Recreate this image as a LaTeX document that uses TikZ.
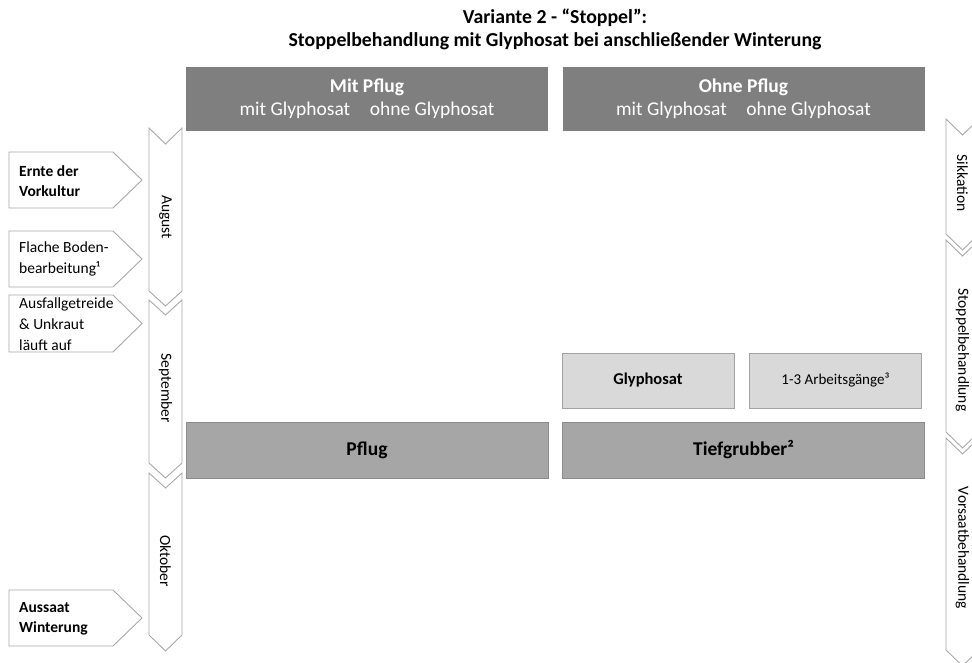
\documentclass[tikz,border=0pt]{standalone}
\usepackage{fontspec}
\setmainfont{Carlito}
\definecolor{kopfgrau}{HTML}{7F7F7F}
\definecolor{pfluggrau}{HTML}{A6A6A6}
\definecolor{glygrau}{HTML}{D9D9D9}
\definecolor{randgrau}{HTML}{A8A8A8}
\definecolor{boxrand}{HTML}{8C8C8C}
\tikzset{
  chev/.style={draw=randgrau, fill=white, line width=0.9pt},
  kopfbox/.style={fill=kopfgrau, text=white, minimum width=362pt, minimum height=64pt,
    align=center, inner sep=0pt, font=\fontsize{19.5}{23}\selectfont},
  pflugbox/.style={fill=pfluggrau, draw=boxrand, minimum width=362pt, minimum height=56pt,
    inner sep=0pt, font=\bfseries\fontsize{19.5}{22}\selectfont},
  glybox/.style={fill=glygrau, draw=boxrand!80, minimum width=172pt, minimum height=55pt,
    inner sep=0pt, font=\fontsize{15}{18}\selectfont},
  lbl/.style={anchor=west, align=left, inner sep=0pt, font=\fontsize{15.5}{21}\selectfont},
  monat/.style={rotate=-90, inner sep=0pt, font=\fontsize{15.5}{18}\selectfont},
}
\begin{document}
\begin{tikzpicture}[x=1pt, y=-1pt]
	\useasboundingbox (0,0) rectangle (972,663);
	\clip (0,0) rectangle (972,663);

	% Titel
	\node[align=center, font=\bfseries\fontsize{19.8}{23}\selectfont] (titel) at (555,29)
		{Variante 2 - “Stoppel”:\\Stoppelbehandlung mit Glyphosat bei anschließender Winterung};

	% Kopfzeile
	\node[kopfbox] (mitpflug) at (367,99) {\textbf{Mit Pflug}\\mit Glyphosat\quad ohne Glyphosat};
	\node[kopfbox] (ohnepflug) at (743.5,99) {\textbf{Ohne Pflug}\\mit Glyphosat\quad ohne Glyphosat};

	% Arbeitsgaenge
	\node[glybox, font=\bfseries\fontsize{16.5}{18}\selectfont] (glyphosat) at (648,380.5) {Glyphosat};
	\node[glybox] (arbeitsgaenge) at (835.5,380.5) {1-3 Arbeitsgänge³};
	\node[pflugbox] (pflug) at (367,450) {Pflug};
	\node[pflugbox] (tiefgrubber) at (743.5,450) {Tiefgrubber²};

	% Monate (links)
	\draw[chev] (149,128) -- (165.5,144) -- (182,128) -- (182,291) -- (165.5,306) -- (149,291) -- cycle;
	\draw[chev] (149,300) -- (165.5,315) -- (182,300) -- (182,463) -- (165.5,478) -- (149,463) -- cycle;
	\draw[chev] (149,473) -- (165.5,488) -- (182,473) -- (182,635) -- (165.5,651) -- (149,635) -- cycle;
	\node[monat] (august) at (165.5,217) {August};
	\node[monat] (september) at (165.5,388) {September};
	\node[monat] (oktober) at (165.5,561) {Oktober};

	% Ereignisse (links)
	\draw[chev] (9,152) -- (113,152) -- (142,180) -- (113,208) -- (9,208) -- cycle;
	\draw[chev] (9,231) -- (113,231) -- (142,259) -- (113,287) -- (9,287) -- cycle;
	\draw[chev] (9,295) -- (113,295) -- (142,323.5) -- (113,352) -- (9,352) -- cycle;
	\draw[chev] (9,590) -- (113,590) -- (142,618) -- (113,646) -- (9,646) -- cycle;
	\node[lbl, font=\bfseries\fontsize{15.5}{20}\selectfont] (ernte) at (19,181) {Ernte der\\Vorkultur};
	\node[lbl] (bodenbearbeitung) at (19,259) {Flache Boden-\\bearbeitung¹};
	\node[lbl] (ausfall) at (19,324) {Ausfallgetreide\\\& Unkraut\\läuft auf};
	\node[lbl, font=\bfseries\fontsize{15.5}{20}\selectfont] (aussaat) at (19,619) {Aussaat\\Winterung};

	% Phasen (rechts)
	\draw[chev] (946,119) -- (962.5,135) -- (979,119) -- (979,234) -- (962.5,250) -- (946,234) -- cycle;
	\draw[chev] (946,240) -- (962.5,256) -- (979,240) -- (979,432) -- (962.5,448) -- (946,432) -- cycle;
	\draw[chev] (946,438) -- (962.5,454) -- (979,438) -- (979,650) -- (962.5,666) -- (946,650) -- cycle;
	\node[monat] (sikkation) at (962.5,183) {Sikkation};
	\node[monat] (stoppel) at (962.5,350) {Stoppelbehandlung};
	\node[monat] (vorsaat) at (962.5,548) {Vorsaatbehandlung};
\end{tikzpicture}
\end{document}
